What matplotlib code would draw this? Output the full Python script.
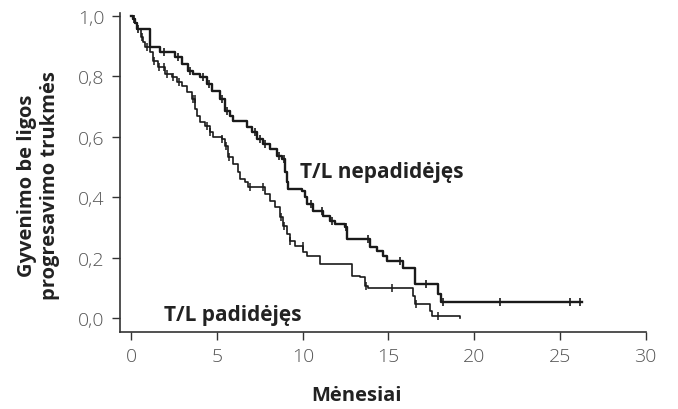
import matplotlib
matplotlib.use("Agg")
import matplotlib.pyplot as plt
import numpy as np

plt.rcParams['font.family'] = ['Open Sans', 'DejaVu Sans']

# T/L nepadidejes (upper curve): step times (months) and survival after each step
up_t = [0, 0.1, 0.2, 0.3, 1.09, 1.67, 2.54, 2.93, 3.30, 3.59, 4.0, 4.39, 4.68, 5.17, 5.46,
        5.75, 5.94, 6.73, 7.02, 7.31, 7.68, 8.09, 8.48, 8.77, 8.96, 9.06, 9.14, 9.94, 10.13,
        10.23, 10.6, 11.19, 11.59, 11.88, 12.46, 12.56, 13.92, 14.31, 14.68, 14.9, 15.85,
        16.55, 17.9, 18.06]
up_s = [1.0, 0.99, 0.975, 0.956, 0.895, 0.88, 0.863, 0.84, 0.818, 0.807, 0.796, 0.774, 0.752,
        0.724, 0.685, 0.669, 0.652, 0.631, 0.615, 0.592, 0.575, 0.559, 0.537, 0.526, 0.483,
        0.45, 0.427, 0.421, 0.40, 0.377, 0.355, 0.338, 0.322, 0.311, 0.30, 0.261, 0.236,
        0.222, 0.206, 0.189, 0.167, 0.112, 0.079, 0.052]
up_end = 26.28
up_cens = [0.15, 0.4, 1.9, 2.7, 3.4, 4.2, 4.5, 5.3, 5.55, 7.2, 7.5, 7.8, 8.6, 8.9, 10.5,
           11.1, 11.7, 12.5, 13.8, 15.7, 17.2, 18.2, 21.5, 25.6, 26.2]

# T/L padidejes (lower curve)
lo_t = [0, 0.1, 0.2, 0.3, 0.54, 0.69, 0.79, 1.09, 1.28, 1.57, 1.96, 2.35, 2.64, 2.93, 3.23,
        3.52, 3.71, 3.81, 4.0, 4.29, 4.59, 4.78, 5.27, 5.46, 5.65, 5.95, 6.24, 6.34, 6.63,
        6.82, 7.79, 8.09, 8.38, 8.67, 8.86, 9.06, 9.25, 9.55, 10.03, 10.23, 11.0, 12.85,
        13.34, 13.63, 13.82, 16.45, 16.55, 17.42, 17.52, 19.17]
lo_s = [1.0, 0.99, 0.975, 0.956, 0.928, 0.912, 0.895, 0.879, 0.851, 0.829, 0.807, 0.796,
        0.779, 0.768, 0.746, 0.724, 0.691, 0.669, 0.647, 0.636, 0.614, 0.598, 0.592, 0.569,
        0.531, 0.509, 0.482, 0.46, 0.449, 0.432, 0.41, 0.388, 0.366, 0.334, 0.305, 0.278,
        0.256, 0.239, 0.217, 0.206, 0.179, 0.14, 0.135, 0.107, 0.098, 0.074, 0.046, 0.024,
        0.008, 0.0]
lo_cens = [0.6, 0.9, 1.3, 1.6, 1.9, 2.1, 2.4, 2.8, 3.6, 3.7, 4.4, 4.6, 5.3, 5.5, 5.7, 6.9,
           7.7, 8.7, 8.9, 9.25, 10.0, 13.7, 15.2, 16.6, 17.9]

x_ticks = [0, 5, 10, 15, 20, 25, 30]
y_ticks = [0.0, 0.2, 0.4, 0.6, 0.8, 1.0]
y_labels = ['0,0', '0,2', '0,4', '0,6', '0,8', '1,0']


def surv_at(t, s, c):
    idx = np.searchsorted(np.array(t), np.array(c), side='right') - 1
    return np.array(s)[idx]


fig = plt.figure(figsize=(6.78, 4.10), dpi=100)
ax = fig.add_axes([0.177, 0.189, 0.7752, 0.7768])

col = '#1a1a1a'
ax.step(up_t + [up_end], up_s + [up_s[-1]], where='post', color=col, lw=1.7)
ax.plot(up_cens, surv_at(up_t, up_s, up_cens), ls='none', marker='|', ms=6, mew=1.2, color=col)

ax.step(lo_t, lo_s, where='post', color=col, lw=1.2)
ax.plot(lo_cens, surv_at(lo_t, lo_s, lo_cens), ls='none', marker='|', ms=6, mew=1.1, color=col)

ax.text(9.85, 0.483, 'T/L nepadidėjęs', fontsize=15, fontweight='bold', color='#222222',
        va='center', ha='left')
ax.text(1.9, 0.01, 'T/L padidėjęs', fontsize=15, fontweight='bold', color='#222222',
        va='center', ha='left')

ax.set_xlim(-0.665, 30)
ax.set_ylim(-0.0446, 1.0086)
ax.set_xticks(x_ticks)
ax.set_xticklabels([str(v) for v in x_ticks])
ax.set_yticks(y_ticks)
ax.set_yticklabels(y_labels)

for sp in ['top', 'right']:
    ax.spines[sp].set_visible(False)
for sp in ['left', 'bottom']:
    ax.spines[sp].set_color('#333333')
    ax.spines[sp].set_linewidth(1.2)
ax.tick_params(axis='both', direction='out', length=6, width=1.0, color='#333333',
               labelsize=14, labelcolor='#555555', pad=5)
for lab in ax.get_xticklabels() + ax.get_yticklabels():
    lab.set_fontweight('light')

ax.set_xlabel('Mėnesiai', fontsize=14.5, fontweight='bold', color='#222222', va='center')
ax.xaxis.set_label_coords(0.45, -0.198)
ax.set_ylabel('Gyvenimo be ligos\nprogresavimo trukmės', fontsize=14.5, fontweight='bold',
              color='#222222', linespacing=1.2)
ax.yaxis.set_label_coords(-0.114, 0.46)

fig.savefig('out.png', dpi=100)
